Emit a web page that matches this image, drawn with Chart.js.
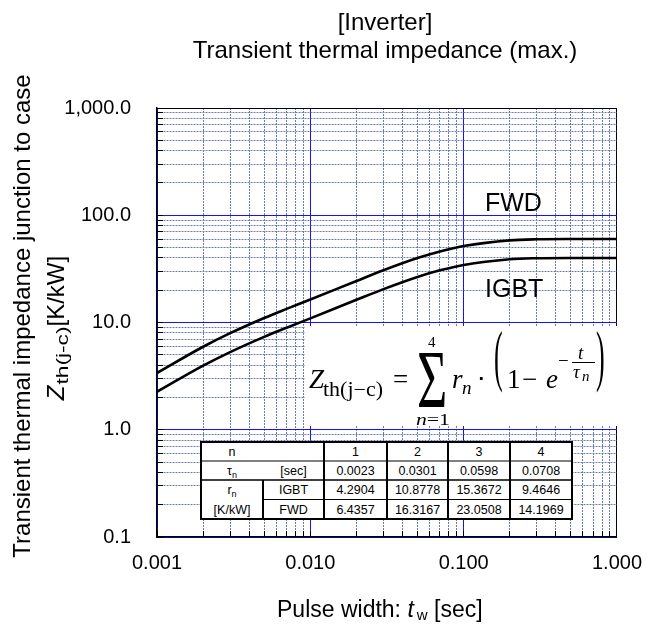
<!DOCTYPE html>
<html>
<head>
<meta charset="utf-8">
<script src="https://cdn.jsdelivr.net/npm/chart.js@4.4.1/dist/chart.umd.min.js"></script>
<style>
  body { margin: 0; background: #fff; }
  #wrap { position: relative; width: 662px; height: 628px; }
  #zthChart { position: absolute; left: 0; top: 0; }
  #overlay { position: absolute; left: 0; top: 0; pointer-events: none; }
  #overlay text { fill: #000; }
  .sans { font-family: "Liberation Sans", Arial, sans-serif; }
  .serif { font-family: "Liberation Serif", "Times New Roman", serif; }
</style>
</head>
<body>
<div id="wrap">
  <canvas id="zthChart" width="662" height="628"></canvas>
  <svg id="overlay" width="662" height="628" xmlns="http://www.w3.org/2000/svg">
    <!-- titles -->
    <text class="sans" x="385" y="30" font-size="24" text-anchor="middle">[Inverter]</text>
    <text class="sans" x="385" y="58" font-size="24" text-anchor="middle">Transient thermal impedance (max.)</text>

    <text class="sans" font-size="24" text-anchor="middle" transform="translate(30,316) rotate(-90)">Transient thermal impedance junction to case</text>
    <text class="sans" font-size="24" text-anchor="middle" transform="translate(64,328) rotate(-90)"><tspan font-style="italic">Z</tspan><tspan font-size="16" dy="4" dx="1" textLength="58" lengthAdjust="spacingAndGlyphs">th(j-c)</tspan><tspan dy="-4">[K/kW]</tspan></text>

    <text class="sans" x="277" y="617" font-size="23">Pulse width: <tspan font-style="italic">t</tspan><tspan font-size="15" dy="3" dx="3">w</tspan><tspan dy="-3"> [sec]</tspan></text>

    <!-- curve labels -->
    <text class="sans" x="485" y="211" font-size="25">FWD</text>
    <text class="sans" x="485" y="297" font-size="25">IGBT</text>

    <!-- formula -->
    <rect x="305" y="326" width="312" height="100" fill="#fff"/>
    <g class="serif">
      <text x="309" y="388" font-size="27" font-style="italic">Z</text>
      <text x="323" y="396" font-size="20" textLength="60" lengthAdjust="spacingAndGlyphs">th(j−c)</text>
      <text x="393" y="388" font-size="27">=</text>
      <text font-size="52" transform="translate(417,407) scale(1,1.6)">Σ</text>
      <text x="428" y="347" font-size="15">4</text>
      <text x="416" y="425" font-size="17" textLength="34" lengthAdjust="spacingAndGlyphs"><tspan font-style="italic">n</tspan>=1</text>
      <text x="452" y="388" font-size="27" font-style="italic">r</text>
      <text x="462" y="394" font-size="19" font-style="italic">n</text>
      <text x="477" y="388" font-size="27">⋅</text>
      <text font-size="26" transform="translate(494,378) scale(1,2.6)">(</text>
      <text x="507" y="388" font-size="27">1</text>
      <text x="522" y="388" font-size="27">−</text>
      <text x="546" y="388" font-size="27" font-style="italic">e</text>
      <text x="558" y="367" font-size="19">−</text>
      <text x="578" y="359" font-size="19" font-style="italic">t</text>
      <line x1="572" y1="362.5" x2="595" y2="362.5" stroke="#000" stroke-width="1"/>
      <text x="573" y="378" font-size="19" font-style="italic">τ</text>
      <text x="582" y="381" font-size="15" font-style="italic">n</text>
      <text font-size="26" transform="translate(596,378) scale(1,2.6)">)</text>
    </g>

    <!-- parameter table -->
    <g id="paramTable" class="sans"></g>
  </svg>
</div>

<script>
// pulse width [sec] and impedance values [K/kW]
const pulseWidth = [0.001, 0.002, 0.003, 0.005, 0.007, 0.01, 0.02, 0.03, 0.05, 0.07, 0.1, 0.2, 0.3, 0.5, 0.7, 1.0];
const zthIGBT = [2.26, 3.96, 5.30, 7.35, 8.93, 10.92, 16.27, 20.48, 26.60, 30.65, 34.42, 38.88, 39.76, 39.99, 40.00, 40.00];
const zthFWD = [3.38, 5.94, 7.95, 11.02, 13.40, 16.39, 24.40, 30.73, 39.91, 45.97, 51.62, 58.32, 59.64, 59.98, 60.00, 60.00];

// axis ticks
const xMajorTicks = [0.001, 0.01, 0.1, 1];
const xTickLabels = ['0.001', '0.010', '0.100', '1.000'];
const yMajorTicks = [0.1, 1, 10, 100, 1000];
const yTickLabels = ['0.1', '1.0', '10.0', '100.0', '1,000.0'];

// table of the thermal network terms
const termIndex = ['1', '2', '3', '4'];
const tauSec = ['0.0023', '0.0301', '0.0598', '0.0708'];
const rIGBT = ['4.2904', '10.8778', '15.3672', '9.4646'];
const rFWD = ['6.4357', '16.3167', '23.0508', '14.1969'];

const FONT = '"Liberation Sans", Arial, sans-serif';

function isDecade(v) {
    const l = Math.log10(v);
    return Math.abs(l - Math.round(l)) < 1e-9;
}

// majors plus 2..9 of each decade
function logGrid(majors) {
    const out = [];
    majors.forEach((d, i) => {
        out.push(d);
        if (i < majors.length - 1) {
            for (let m = 2; m <= 9; m++) out.push(+(m * d).toPrecision(6));
        }
    });
    return out;
}

function labelFor(majors, labels, v) {
    const i = majors.findIndex(m => Math.abs(m - v) / m < 1e-9);
    return i >= 0 ? labels[i] : '';
}

function gridColor(edgeValue) {
    return function (ctx) {
        if (!ctx.tick) return '#1010f0';
        const v = ctx.tick.value;
        if (Math.abs(v - edgeValue) / edgeValue < 1e-9) return '#000020';
        return isDecade(v) ? '#1414ee' : '#6a7db8';
    };
}

function gridDash(ctx) {
    if (ctx.tick && !isDecade(ctx.tick.value)) return [2, 1];
    return [];
}

const ctx = document.getElementById('zthChart').getContext('2d');
new Chart(ctx, {
    type: 'line',
    data: {
        datasets: [
            {
                label: 'FWD',
                data: pulseWidth.map((t, i) => ({ x: t, y: zthFWD[i] })),
                borderColor: '#000',
                borderWidth: 2.6,
                pointRadius: 0,
                fill: false,
                cubicInterpolationMode: 'monotone'
            },
            {
                label: 'IGBT',
                data: pulseWidth.map((t, i) => ({ x: t, y: zthIGBT[i] })),
                borderColor: '#000',
                borderWidth: 2.6,
                pointRadius: 0,
                fill: false,
                cubicInterpolationMode: 'monotone'
            }
        ]
    },
    options: {
        responsive: false,
        animation: false,
        layout: { padding: { left: 0, right: 36, top: 108, bottom: 0 } },
        plugins: {
            legend: { display: false },
            tooltip: { enabled: false }
        },
        scales: {
            x: {
                type: 'logarithmic',
                min: 0.001,
                max: 1,
                afterBuildTicks: scale => { scale.ticks = logGrid(xMajorTicks).map(v => ({ value: v })); },
                afterFit: scale => { scale.height = 91; },
                grid: {
                    color: gridColor(1),
                    lineWidth: 1,
                    drawTicks: true,
                    tickLength: -6,
                    tickColor: '#000',
                    tickWidth: 1
                },
                border: { display: true, color: '#000', width: 1.5, dash: gridDash },
                ticks: {
                    autoSkip: false,
                    maxRotation: 0,
                    padding: 20,
                    color: '#000',
                    font: { family: FONT, size: 20 },
                    callback: v => labelFor(xMajorTicks, xTickLabels, v)
                }
            },
            y: {
                type: 'logarithmic',
                min: 0.1,
                max: 1000,
                afterBuildTicks: scale => { scale.ticks = logGrid(yMajorTicks).map(v => ({ value: v })); },
                afterFit: scale => { scale.width = 157; },
                grid: {
                    color: gridColor(1000),
                    lineWidth: 1,
                    drawTicks: true,
                    tickLength: -6,
                    tickColor: '#000',
                    tickWidth: 1
                },
                border: { display: true, color: '#000', width: 1.5, dash: gridDash },
                ticks: {
                    autoSkip: false,
                    padding: 32,
                    color: '#000',
                    font: { family: FONT, size: 20 },
                    callback: v => labelFor(yMajorTicks, yTickLabels, v)
                }
            }
        }
    }
});

// parameter table drawn into the svg overlay
(function buildTable() {
    const g = document.getElementById('paramTable');
    const left = 201, top = 442, right = 572, bottom = 519;
    const rowY = [442, 461, 480, 499.5, 519];
    const colX = [201, 263, 324, 387, 448, 510, 572];
    const fs = 12.5;
    let html = `<rect x="${left}" y="${top}" width="${right - left}" height="${bottom - top}" fill="#fff" stroke="none"/>`;

    const hLine = (y, x1, x2, w) => `<line x1="${x1}" y1="${y}" x2="${x2}" y2="${y}" stroke="#000" stroke-width="${w}"/>`;
    const vLine = (x, y1, y2, w) => `<line x1="${x}" y1="${y1}" x2="${x}" y2="${y2}" stroke="#000" stroke-width="${w}"/>`;

    html += hLine(rowY[1], left, right, 1);
    html += hLine(rowY[2], left, right, 1.3);
    html += hLine(rowY[3], colX[1], right, 1);
    html += vLine(colX[1], rowY[2], bottom, 2);
    for (let c = 2; c < 6; c++) html += vLine(colX[c], top, bottom, 2);
    html += `<rect x="${left}" y="${top}" width="${right - left}" height="${bottom - top}" fill="none" stroke="#000" stroke-width="2"/>`;

    const cell = (c, r, content) => {
        const cx = (colX[c] + colX[c + 1]) / 2;
        const cy = (rowY[r] + rowY[r + 1]) / 2 + fs * 0.36;
        return `<text x="${cx}" y="${cy}" font-size="${fs}" text-anchor="middle">${content}</text>`;
    };

    html += cell(0, 0, 'n');
    html += cell(0, 1, 'τ<tspan font-size="9" dy="3">n</tspan>');
    html += cell(1, 1, '[sec]');
    html += cell(0, 2, 'r<tspan font-size="9" dy="3">n</tspan>');
    html += cell(1, 2, 'IGBT');
    html += cell(0, 3, '[K/kW]');
    html += cell(1, 3, 'FWD');
    for (let k = 0; k < 4; k++) {
        html += cell(2 + k, 0, termIndex[k]);
        html += cell(2 + k, 1, tauSec[k]);
        html += cell(2 + k, 2, rIGBT[k]);
        html += cell(2 + k, 3, rFWD[k]);
    }
    g.innerHTML = html;
})();
</script>
</body>
</html>
